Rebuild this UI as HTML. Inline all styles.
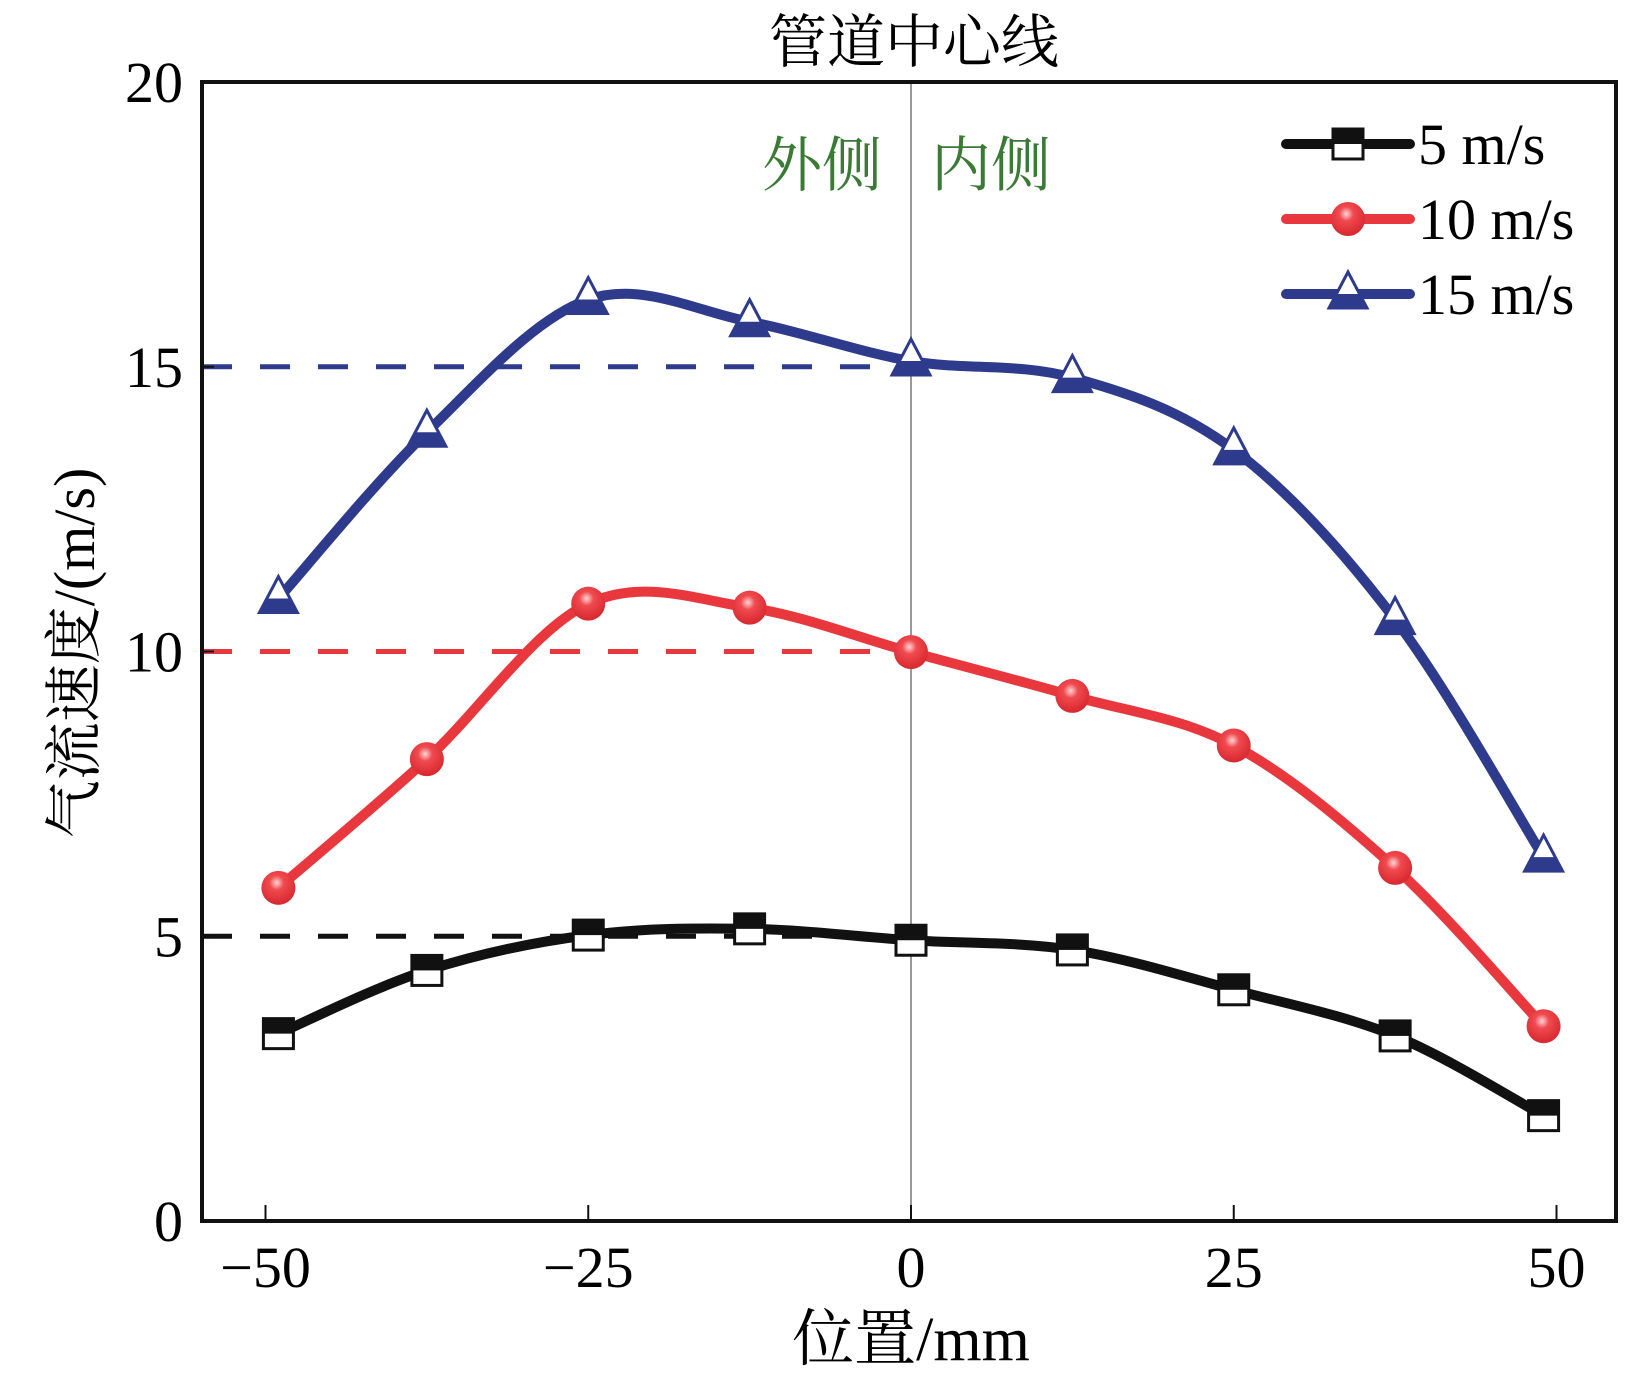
<!DOCTYPE html>
<html><head><meta charset="utf-8"><style>
html,body{margin:0;padding:0;background:#fff;}
svg{display:block;}
text{font-family:"Liberation Serif","Noto Serif CJK SC",serif;}
</style></head><body>
<svg id="chart" width="1649" height="1389" viewBox="0 0 1649 1389">
<g id="layer"></g>
</svg>
<script>
const xPositions = [-49, -37.5, -25, -12.5, 0, 12.5, 25, 37.5, 49];
const series5 = [3.29, 4.40, 5.02, 5.13, 4.93, 4.76, 4.06, 3.25, 1.85];
const series10 = [5.85, 8.11, 10.84, 10.77, 9.99, 9.22, 8.35, 6.20, 3.42];
const series15 = [10.93, 13.85, 16.18, 15.79, 15.10, 14.81, 13.54, 10.56, 6.39];
const xTicks = [-50, -25, 0, 25, 50];
const xTickLabels = ["\u221250", "\u221225", "0", "25", "50"];
const yTicks = [0, 5, 10, 15, 20];
const refLevels = [5, 10, 15];
const seriesNames = ["5 m/s", "10 m/s", "15 m/s"];

const L=202,R=1616,T=82,B=1221;
const X=v=>911+(v)*(1557-266)/100;
const Y=v=>B-v*(B-T)/20;
const NS="http://www.w3.org/2000/svg";
const g=document.getElementById('layer');
function mk(tag,attrs,parent){const e=document.createElementNS(NS,tag);for(const k in attrs)e.setAttribute(k,attrs[k]);(parent||g).appendChild(e);return e;}
function txt(s,attrs,parent){const e=mk('text',attrs,parent);e.textContent=s;return e;}

const colors=["#111111","#e8383d","#2e3a8c"];
const data=[series5,series10,series15];

// center line
let cl=mk('line',{x1:X(0),x2:X(0),y1:T,y2:B,stroke:'#999',"stroke-width":2});



// dashed reference lines
refLevels.forEach((lv,i)=>{
  const d=mk('line',{x1:L,x2:X(-2),y1:Y(lv),y2:Y(lv),stroke:colors[i],"stroke-width":5,"stroke-dasharray":"30 28"});
  
  
});

// smooth path
function smooth(pts){
  let d=`M${pts[0][0]},${pts[0][1]}`;
  for(let i=0;i<pts.length-1;i++){
    const p0=pts[Math.max(0,i-1)],p1=pts[i],p2=pts[i+1],p3=pts[Math.min(pts.length-1,i+2)];
    const c1x=p1[0]+(p2[0]-p0[0])/6,c1y=p1[1]+(p2[1]-p0[1])/6;
    const c2x=p2[0]-(p3[0]-p1[0])/6,c2y=p2[1]-(p3[1]-p1[1])/6;
    d+=` C${c1x},${c1y} ${c2x},${c2y} ${p2[0]},${p2[1]}`;
  }
  return d;
}
const defs=mk('defs',{});
const rg=mk('radialGradient',{id:'rg',cx:'0.45',cy:'0.35',r:'0.6'},defs);
mk('stop',{offset:'0','stop-color':'#ffd6d6'},rg);
mk('stop',{offset:'0.35','stop-color':'#f04a4f'},rg);
mk('stop',{offset:'1','stop-color':'#d92b32'},rg);

function marker(k,cx,cy,parent){
  if(k===0){
    mk('rect',{x:cx-15,y:cy-15,width:30,height:30,fill:'#fff',stroke:'#111',"stroke-width":3},parent);
    mk('rect',{x:cx-15,y:cy-15,width:30,height:15,fill:'#111'},parent);
  }else if(k===1){
    mk('circle',{cx:cx,cy:cy,r:17,fill:'url(#rg)'},parent);
  }else{
    mk('polygon',{points:`${cx},${cy-22} ${cx-19},${cy+14} ${cx+19},${cy+14}`,fill:'#fff',stroke:'#2e3a8c',"stroke-width":3},parent);
    mk('polygon',{points:`${cx-11},${cy} ${cx+11},${cy} ${cx+19},${cy+14} ${cx-19},${cy+14}`,fill:'#2e3a8c'},parent);
  }
}

data.forEach((vals,k)=>{
  const sg=mk('g',{});
  
  
  const pts=vals.map((v,i)=>[X(xPositions[i]),Y(v)]);
  mk('path',{d:smooth(pts),fill:'none',stroke:colors[k],"stroke-width":10,"stroke-linejoin":'round'},sg);
  pts.forEach(p=>marker(k,p[0],p[1],sg));
});

// axes frame
let fr=mk('rect',{x:L,y:T,width:R-L,height:B-T,fill:'none',stroke:'#111',"stroke-width":4});



xTicks.forEach((v,i)=>{
  mk('line',{x1:X(v),x2:X(v),y1:B,y2:B-16,stroke:'#111',"stroke-width":2});
  const t=txt(xTickLabels[i],{x:X(v),y:1287,"font-size":58,"text-anchor":'middle'});
  
  
});
yTicks.forEach(v=>{
  mk('line',{x1:L,x2:L+12,y1:Y(v),y2:Y(v),stroke:'#111',"stroke-width":2});
  const t=txt(String(v),{x:183,y:Y(v)+20,"font-size":58,"text-anchor":'end'});
  
  
});

// legend
const lg=mk('g',{});


[144,219,294].forEach((y,k)=>{
  mk('line',{x1:1286,x2:1410,y1:y,y2:y,stroke:colors[k],"stroke-width":10,"stroke-linecap":'round'},lg);
  marker(k,1348,y,lg);
  txt(seriesNames[k],{x:1418,y:y+20,"font-size":58},lg);
});
</script>
<svg width="0" height="0"></svg>
<div style="position:absolute;left:0;top:0;width:1649px;height:1389px;pointer-events:none;">
<svg width="1649" height="1389" style="position:absolute;left:0;top:0">
<text x="914" y="62" font-size="58" text-anchor="middle" style="font-family:'Liberation Serif','Noto Serif CJK SC',serif">管道中心线</text>
<text x="822" y="186" font-size="60" text-anchor="middle" fill="#3a7a35" style="font-family:'Liberation Serif','Noto Serif CJK SC',serif">外侧</text>
<text x="991" y="186" font-size="60" text-anchor="middle" fill="#3a7a35" style="font-family:'Liberation Serif','Noto Serif CJK SC',serif">内侧</text>
<text transform="translate(94,653) rotate(-90)" font-size="58" text-anchor="middle" style="font-family:'Liberation Serif','Noto Serif CJK SC',serif">气流速度/(m/s)</text>
<text x="911" y="1360" font-size="62" text-anchor="middle" style="font-family:'Liberation Serif','Noto Serif CJK SC',serif">位置/mm</text>
</svg>
</div>
</body></html>
